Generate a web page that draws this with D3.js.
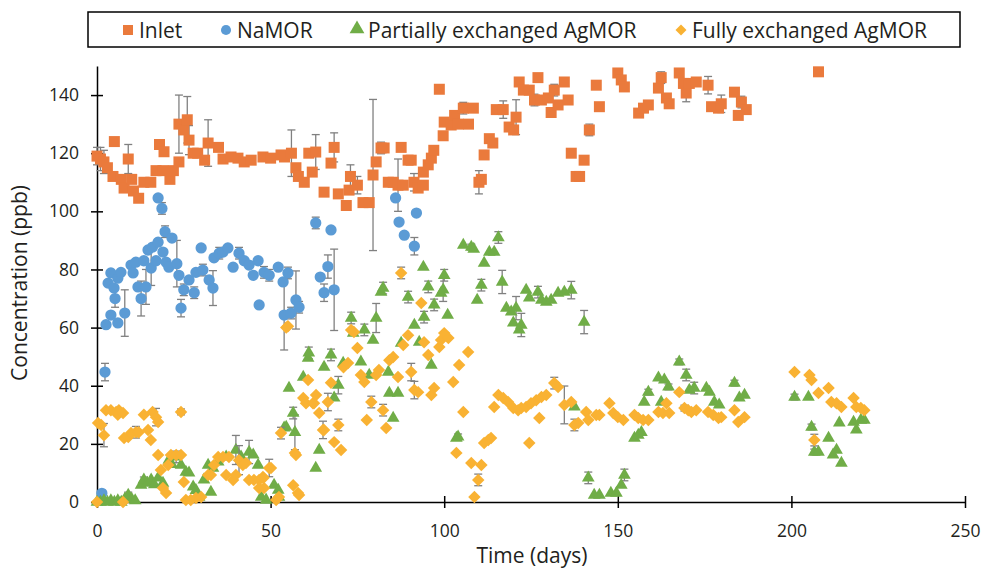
<!DOCTYPE html>
<html>
  <head>
    <meta charset="UTF-8" />
    <title>Concentration vs time</title>
    <style>
      body { margin: 0; background: #fff; }
      text { font-family: "Open Sans", "Noto Sans", sans-serif; fill: #231f20; }
    </style>
  </head>
  <body>
    <svg width="982" height="570"></svg>

    <script src="https://d3js.org/d3.v7.min.js"></script>
    <script>
      // data: [day, ppb, error]
      const inlet = [
        [0,119,3],[1,118,4],[2,117,4],[3,115,0],[4.6,112,0],[5,124,0],[7,111,0],[7.8,108,0],[9,118,5],[10,111,0],
        [10.5,107,0],[12,104.5,0],[13.5,110,0],[15.5,110,0],[17,114,0],[18,123,0],[19.3,120.5,0],[19,114,0],[21,111,0],[22,114,0],
        [23.6,117,0],[23.6,130,10],[25,128,0],[26,131.5,8],[26.5,124.5,5],[27.7,120,0],[29,120,0],[31,117.6,0],[32,123.5,8],[35,122,0],
        [36.3,118,0],[38.6,118.7,0],[40.6,118.3,0],[42.4,117,0],[44.4,117.6,0],[47.8,118.7,0],[50,118.3,0],[53,119.4,0],[54,118.7,0],[56,120,8],
        [57.3,115,0],[58,112,0],[59.7,110,0],[61,120,0],[63,120.4,6],[62,113.5,0],[65.4,106.6,0],[67.4,116.6,0],[68.3,122,5],[69.5,106,0],
        [71.8,102,0],[73,112,4],[72.6,107.3,0],[75,109,3],[76.6,103,0],[78.4,103,0],[79.5,112.5,26],[80.4,117,0],[81.8,121.8,2],[82.7,121.8,0],
        [83.9,110,0],[85.3,110,0],[87.6,122,0],[86.7,109,9],[88.2,109,0],[89.6,117.6,0],[90.5,117.6,0],[91.3,110,3],[92.5,108,0],[94,109,0],
        [94,113.5,0],[95.4,116,0],[96.3,118.3,0],[97,121,0],[98.6,142,0],[99.7,126,0],[100,130.7,0],[102,129.7,0],[103,133,0],[104,130,0],
        [105.5,135.5,2],[107,130,0],[108.4,135.5,0],[110,110,4],[110.7,111,0],[111.5,119.4,0],[113,125,0],[114,123.5,0],[115,135,0],[117,135,3],
        [118.7,129,0],[120,128,0],[120.7,132.4,6],[121.6,144.5,0],[122.8,141.7,0],[124.5,141.7,0],[126,138.3,2],[127,146,0],[128,138.3,0],[130,139,0],
        [130.8,134,0],[131.7,141.7,2],[132.8,136.6,0],[134.6,144.5,0],[135.7,138.3,0],[136.6,120,0],[138,112,0],[139,112,0],[140.3,117.6,0],[141.8,128,2],
        [143.8,143.4,0],[144.7,136,0],[150,147.6,1],[151,145.2,0],[151.9,142.8,0],[156,133.8,1],[157.4,135.5,0],[158.8,136.6,1],[161.7,142.4,0],[162.5,146,2],
        [164,139,0],[164.8,137,0],[167.7,147.6,1],[168.9,144,0],[169.7,140.7,3],[170.6,144,0],[172.6,144.5,1],[176,143.4,3],[177,136,0],[179,135.5,1],
        [179.8,137,3],[183.6,141,0],[184.7,133,0],[185.6,137.6,2],[187,135,0],[207.8,148,1]
      ];

      const naMOR = [
        [1.4,3,0],[2.3,44.7,3],[2.6,61,0],[3.2,75.3,0],[4,78.8,0],[4,64.3,0],[4.9,73.6,0],[5.2,70,3],[6,77,0],[6,61.6,0],
        [6.9,79,0],[8,65,8],[9.8,81.5,0],[10.4,78.8,0],[11.2,82.5,0],[11.8,74,0],[12.7,70,6],[13.5,83,0],[14.1,74,6],[14.7,86.7,0],
        [15.6,80.5,6],[16,87.7,0],[17,83,0],[17.6,89.4,0],[17.6,104.6,0],[18.7,101,2],[19,86,0],[19.6,93,2],[19.9,82.5,0],[20.7,80.8,0],
        [21.6,90.8,0],[23,82,8],[23.6,78,0],[24.2,66.7,3],[25,73,2],[26.5,76.4,0],[28,72,2],[28.5,79,0],[30,87.4,0],[30.5,79.8,2],
        [32.3,76.4,0],[33.4,73.6,6],[33.7,84,0],[35.2,85.6,2],[36.3,86,0],[37.7,87.4,0],[39.2,80.8,0],[40.9,85.6,2],[42.4,83,0],[43.8,81.5,0],
        [45,78,0],[46.4,83,0],[46.7,67.8,0],[48.1,79,2],[49.6,78,2],[52.2,80.8,0],[53.6,75.7,0],[55,78.8,2],[53.9,64.3,12],[55.9,65,2],
        [57.3,69.5,10],[58.2,67,2],[63,96,2],[64.3,77.4,0],[65.4,72,3],[66.5,81,4],[67.4,93.6,0],[68.3,73,14],[86,104.6,0],[87,96.3,0],
        [88.5,91.8,0],[91.4,88,3],[92,99.4,0]
      ];

      const partialAg = [
        [0,0,0],[1,0,0],[2,0.5,0],[3,0,0],[4,0.5,0],[5,0,0],[6,0.5,0],[7,0,0],[8,1,0],[9,2.4,1],
        [10,1,0],[11,0.5,0],[12.7,5.8,0],[13.5,7.6,1],[14.5,6.5,0],[15.6,7.6,0],[16.5,6,0],[17.6,8.3,0],[19,6.5,0],[20.7,14.4,0],
        [21.5,13,0],[22.8,15.5,2],[24.2,12.7,0],[25.6,10.3,0],[26.5,10,0],[27.7,5.2,0],[28.5,4,0],[29.4,1.7,0],[30.8,7.6,0],[32,12.7,0],
        [32.8,3.4,0],[33.4,11.7,0],[34.9,13.8,0],[37.2,15.5,0],[40,17.9,5],[41.5,15.5,0],[43.8,17.2,4],[45,16.2,0],[46.4,12.7,0],[47.3,1.7,0],
        [48.7,0.7,0],[51,5.8,0],[52.2,4.1,0],[52.4,1.7,0],[53.9,25.5,0],[54.5,25.8,0],[55.3,39.2,0],[56.5,30.6,2],[57,24,6],[59.4,43,0],
        [60.8,49.5,0],[61,51.3,2],[63,11.7,0],[64,17.9,0],[65.4,46.4,0],[67.4,50.6,2],[68.3,35.8,0],[69.5,40.2,3],[70.9,47.8,0],[73.2,63.3,2],
        [73.8,58.1,0],[76,48.2,0],[77,59.2,2],[78.4,43.7,0],[79.5,55.7,0],[80.4,63.3,5],[81.8,72.2,0],[82.4,73.6,2],[83.9,44.7,0],[84.2,37.5,0],
        [85.3,28.9,0],[86.7,37.5,0],[87.6,54.7,0],[89.6,70.5,2],[91.4,60.9,0],[92.8,55,0],[94,80.8,0],[94.2,63.6,2],[95.4,74,2],[96.3,47.1,0],
        [97.1,67.8,2],[99.1,71.9,0],[99.7,73,4],[100,78,2],[101,64.3,0],[103.5,22,0],[104,22.4,1],[105.5,88.4,0],[107.8,87.7,1],[108.5,87,0],
        [109.5,69.5,0],[110.7,74.6,2],[111.5,82.2,0],[113,86,0],[114.4,86,0],[115.6,91,2],[116.7,75.7,4],[117.9,66.7,0],[119.3,65.4,0],[119.9,61.6,0],
        [120.7,66.7,4],[121.6,59.2,0],[122.2,60.9,4],[123.6,72.9,0],[124.5,70.2,0],[127,72.2,2],[128,69.5,0],[129.4,68.8,0],[130.8,69.5,0],[132.8,71.9,0],
        [134.6,72.2,0],[136.6,72.9,3],[137.5,32.7,0],[140.3,61.9,4],[141.5,8.3,2],[143.2,2.4,0],[144.7,2.4,0],[148,3.1,0],[149.6,3.1,0],[151,5.8,0],
        [151.9,9.3,2],[154.8,22,0],[155.9,23,0],[156.8,24,0],[157.6,34.4,0],[158.8,37.8,1],[161.7,42.7,0],[162.5,34.4,0],[163.4,42,0],[164.6,39.6,1],
        [167.7,48.2,1],[169.7,43.7,2],[170.6,38.5,0],[172,39.2,2],[175.5,39.2,0],[176.4,37.8,0],[177.8,34.4,0],[179.2,33.4,0],[183.6,40.9,1],[185,35.8,0],
        [186.5,36.8,0],[200.9,36.1,1],[204.9,36.1,0],[205.8,25.8,1],[206.6,17.2,1],[207.8,17.2,0],[210.7,22,0],[212,16.2,0],[213,17.9,0],[214.4,13.4,0],
        [213.8,27.2,0],[217.9,27.5,0],[218.7,24.8,0],[220,28.2,0],[221,28.2,0]
      ];

      const fullAg = [
        [0,0,0],[0.3,27.2,0],[1.2,26.5,0],[2,23,4],[2.6,31.6,0],[4,31.6,0],[5.5,31,0],[6.3,31.6,0],[6,30,0],[7.5,30.6,0],
        [7.5,0,0],[7.8,22,0],[9,22.4,0],[9.8,23.7,0],[11.2,24,2],[12,24,0],[13.5,30,0],[14.7,24.8,0],[15.5,21.3,0],[16,31,0],
        [17,29.2,3],[17.6,27.5,0],[17.6,16.2,0],[18.4,11,0],[19,4.8,0],[19.9,3.1,0],[20.5,12.7,0],[21.3,16.2,0],[22.8,16.2,0],[24.2,16.2,0],
        [24.2,31,1],[25,6.9,0],[25.6,0.7,0],[27,0.7,0],[28.5,1.4,0],[30,1.7,0],[32,9.3,0],[32.8,9.3,0],[33.7,12.7,0],[34.9,15.5,0],
        [36.3,15.5,0],[38,15.5,0],[37.2,9.3,0],[39.2,7.6,0],[40,9.3,0],[40.9,14.4,5],[42,12.7,0],[42.9,13.4,0],[43.8,7.6,0],[45.2,7.6,0],
        [46.7,7.6,0],[47.8,8.6,0],[46.7,4.8,0],[48.1,4.8,0],[48,8.3,0],[49.6,11.7,3],[50.1,11.7,0],[51.6,0.7,0],[52.4,1.7,0],[53,23.7,2],
        [54.5,60,0],[55,60.5,0],[56.5,5.8,0],[57,16.9,0],[57.3,16.2,0],[57.9,3.1,0],[58.2,2.4,0],[59.4,35.8,0],[60.2,34,0],[60.8,42,0],
        [62.2,34,0],[62.5,34,0],[63.1,36.8,0],[64,30.6,0],[65.1,24.8,3],[65.4,24.8,0],[66.5,34.4,3],[67.4,41,0],[68.3,20.6,0],[69.5,26.5,2],
        [70.3,17.9,0],[71,46.4,0],[72.3,47.8,0],[73.2,59.2,0],[74,58.5,0],[75,53,0],[76,43.7,0],[77,41.3,0],[77.7,28.2,0],[79,34.4,2],
        [80.4,43.7,0],[81.2,45.4,0],[82.4,31.6,2],[83.3,25.5,0],[84.2,48.8,0],[85.3,49.9,0],[86.7,43,0],[87.6,78.8,2],[88.2,54,0],[89.6,57.4,0],
        [90.5,44.7,3],[91.4,38.5,3],[92.5,37.8,0],[93.4,68.5,0],[94.2,55,0],[95.4,50.6,0],[96.3,36.8,0],[97.1,39.2,0],[98.6,53.3,0],[99.1,55.7,0],
        [100,58.1,0],[101.2,56.4,0],[102.6,41.3,0],[103.5,16.9,0],[104.3,47.1,0],[105.5,31,0],[106.9,51.6,0],[107.8,13.4,0],[108.7,1.7,0],[109.8,7.6,2],
        [110.7,12.7,0],[111.5,20.3,0],[112.7,21.3,0],[113.5,22,0],[114.4,32.7,0],[115.6,36.8,0],[117,35.8,0],[118.4,34.4,0],[119.9,32.3,0],[121.3,31.6,0],
        [122.2,32.3,0],[123.6,32.7,0],[124.5,20.3,0],[125,34,0],[126.5,35,0],[127.4,28.9,0],[128,36.1,0],[129.4,36.8,0],[131.7,40.9,2],[132.8,39.6,0],
        [134.6,33.4,6.5],[136.6,34.4,0],[137.5,26.5,2],[138.6,27.2,0],[140.9,31,0],[141.5,28.2,0],[143.8,29.9,0],[144.7,29.9,0],[147.6,34,0],[148.7,30.6,0],
        [150,29.2,0],[151.6,28.2,0],[154.8,29.9,0],[155.9,28.9,0],[157.3,28.2,0],[158.8,28.2,0],[161.7,31,0],[163,30.6,0],[164,34,0],[164.8,30.6,0],
        [167.7,37.8,0],[169.2,32.3,1],[170.3,31.6,0],[171.2,31,0],[172.6,31.6,0],[176,31,0],[177.5,29.9,0],[179,28.9,0],[179.8,29.2,0],[183.6,31.6,0],
        [184.7,27.5,0],[186.5,29.2,0],[200.9,44.7,0],[205.2,43.7,0],[205.8,42,0],[206.6,21.3,2],[207.8,37.5,0],[210.7,39.2,0],[211.5,34.4,0],[213,34,0],
        [214.4,32.7,0],[217.9,35.8,0],[218.7,32.7,0],[220,32.3,0],[221,31.6,0]
      ];

      const xTicks = [0, 50, 100, 150, 200, 250];
      const yTicks = [0, 20, 40, 60, 80, 100, 120, 140];

      const series = [
        { name: "Inlet", data: inlet, color: "#EA7A3C", shape: "square" },
        { name: "NaMOR", data: naMOR, color: "#5B9BD5", shape: "circle" },
        { name: "Partially exchanged AgMOR", data: partialAg, color: "#70AD47", shape: "triangle" },
        { name: "Fully exchanged AgMOR", data: fullAg, color: "#F9B233", shape: "diamond" }
      ];

      const svg = d3.select("svg");
      const x = d3.scaleLinear().domain([0, 250]).range([97, 965]);
      const y = d3.scaleLinear().domain([0, 150]).range([502, 66]);

      // marker shapes
      const symbols = {
        square: d3.symbol(d3.symbolSquare, 121)(),
        circle: d3.symbol(d3.symbolCircle, 100)(),
        triangle: d3.symbol(d3.symbolTriangle, 70)(),
        diamond: d3.symbol(d3.symbolSquare, 78)()
      };
      const rot = (s) => (s === "diamond" ? " rotate(45)" : "");

      // axes
      const yAxis = d3.axisLeft(y).tickValues(yTicks).tickSizeInner(6).tickSizeOuter(0).tickPadding(12);
      const xAxis = d3.axisBottom(x).tickValues(xTicks).tickSizeInner(6).tickSizeOuter(0).tickPadding(17);

      const gy = svg.append("g").attr("transform", "translate(97,0)").call(yAxis);
      const gx = svg.append("g").attr("transform", "translate(0,502)").call(xAxis);
      [gx, gy].forEach((g) => {
        g.select(".domain").attr("stroke", "#000").attr("stroke-width", 1.5);
        g.selectAll(".tick line").attr("stroke", "#000").attr("stroke-width", 1.5);
        g.selectAll(".tick text").attr("font-size", 17.5).attr("font-family", "Open Sans, sans-serif").attr("fill", "#231f20");
      });
      // crossing ticks
      gy.selectAll(".tick line").attr("x1", 6).attr("x2", -6);
      gx.selectAll(".tick line").attr("y1", -6).attr("y2", 6);

      svg.append("text").attr("x", 532).attr("y", 563).attr("text-anchor", "middle")
        .attr("font-size", 21).text("Time (days)");
      svg.append("text").attr("transform", "translate(27,283) rotate(-90)").attr("text-anchor", "middle")
        .attr("font-size", 21).text("Concentration (ppb)");

      // points + error bars
      series.forEach((s) => {
        const g = svg.append("g");
        const withErr = s.data.filter((d) => d[2] > 0);
        const eb = g.selectAll(".eb").data(withErr).enter().append("g").attr("stroke", "#808080").attr("stroke-width", 1.3);
        eb.append("line").attr("x1", (d) => x(d[0])).attr("x2", (d) => x(d[0]))
          .attr("y1", (d) => y(d[1] + d[2])).attr("y2", (d) => y(Math.max(0, d[1] - d[2])));
        eb.append("line").attr("x1", (d) => x(d[0]) - 4).attr("x2", (d) => x(d[0]) + 4)
          .attr("y1", (d) => y(d[1] + d[2])).attr("y2", (d) => y(d[1] + d[2]));
        eb.append("line").attr("x1", (d) => x(d[0]) - 4).attr("x2", (d) => x(d[0]) + 4)
          .attr("y1", (d) => y(Math.max(0, d[1] - d[2]))).attr("y2", (d) => y(Math.max(0, d[1] - d[2])));

        g.selectAll(".pt").data(s.data).enter().append("path")
          .attr("d", symbols[s.shape])
          .attr("transform", (d) => `translate(${x(d[0])},${y(d[1])})${rot(s.shape)}`)
          .attr("fill", s.color);
      });

      // legend
      svg.append("rect").attr("x", 88).attr("y", 12).attr("width", 872).attr("height", 35)
        .attr("fill", "#fff").attr("stroke", "#000").attr("stroke-width", 1.5);
      const legendX = [128, 226, 357, 681];
      const legendSym = { square: [d3.symbolSquare, 100], circle: [d3.symbolCircle, 80], triangle: [d3.symbolTriangle, 95], diamond: [d3.symbolSquare, 60] };
      series.forEach((s, i) => {
        svg.append("path").attr("d", d3.symbol(legendSym[s.shape][0], legendSym[s.shape][1])())
          .attr("transform", `translate(${legendX[i]},${s.shape === "triangle" ? 29 : 30})${rot(s.shape)}`)
          .attr("fill", s.color);
        svg.append("text").attr("x", legendX[i] + 11).attr("y", 37.5)
          .attr("font-size", 21).text(s.name);
      });
    </script>
  </body>
</html>
